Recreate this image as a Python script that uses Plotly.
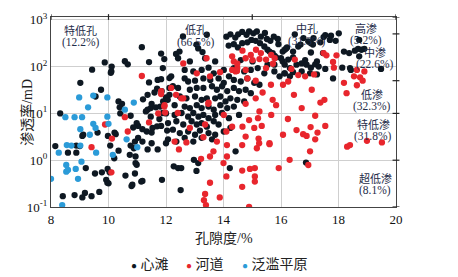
import math
import plotly.graph_objects as go

# ---------------- data (porosity %, permeability mD) ----------------
xintan_por = [
    11.16, 10.57, 10.67, 9.87, 10.11, 10.08, 9.43, 9.02, 9.74, 9.55, 10.35, 10.47, 11.41, 11.83, 11.94,
    11.41, 11.71, 11.83, 12.12, 11.69, 11.36, 11.47, 10.41, 8.32, 12.12,
    9.12, 9.62, 9.98, 10.21, 10.25, 8.15, 8.59, 8.88, 8.88, 9.0, 9.09, 10.77, 10.92, 10.88, 11.03, 10.35, 10.06,
    11.03, 11.18, 11.33, 11.5, 11.53, 11.69, 11.77, 11.83, 11.47, 10.77, 10.98, 10.86, 11.18, 11.5, 11.36, 11.71,
    12.0, 12.04, 10.74, 10.94, 10.98, 10.59, 10.8, 11.14, 11.86, 10.04, 9.77, 9.53, 9.96, 9.18, 8.82, 8.41, 9.41,
    9.68, 9.09, 9.21, 9.97, 9.92, 10.0, 10.83, 10.92, 11.18, 10.94, 10.2,
    11.2, 11.6, 11.9, 11.5, 11.3, 11.8, 12.0, 11.85, 12.06, 11.65, 12.0, 11.36, 10.1, 10.39,
    12.59, 13.42, 13.06, 12.47, 12.35, 13.12, 13.27,
    12.27, 12.42, 12.53, 12.51, 12.97, 13.12, 13.06, 14.22, 14.42,
    12.42, 12.83, 13.36, 13.71, 14.60, 15.01,
    11.89, 12.65, 12.95, 13.24, 13.48, 13.66, 14.01, 14.36, 14.72, 14.95, 15.19,
    12.18, 12.65, 12.77, 13.01, 13.30, 13.54, 13.83, 14.01, 14.19, 14.36, 14.60, 14.83, 15.07, 15.25,
    12.24, 12.42, 12.83, 13.07, 13.30, 13.60, 13.77, 13.95, 14.13, 14.36, 14.54, 14.77, 14.95,
    12.12, 12.48, 12.71, 13.01, 13.24, 13.42, 13.71, 13.89, 14.07, 14.24, 14.48, 14.72,
    12.30, 12.65, 12.83, 13.07, 13.24, 13.48, 13.66, 13.89, 14.13, 14.36,
    11.89, 12.30, 12.54, 12.77, 12.95, 13.13, 13.30, 13.48, 13.71, 13.95, 14.19, 14.54,
    12.07, 12.36, 12.60, 12.89, 13.07, 13.24, 13.42, 13.66, 13.83, 14.24,
    12.24, 12.48, 12.77, 13.01, 13.18, 13.48, 13.71, 14.01,
    12.07, 12.36, 12.65, 12.95, 13.24, 13.60,
    14.10, 14.24, 14.41, 14.51, 14.65, 14.80, 14.89, 15.04, 15.16, 15.30, 15.44, 15.51, 15.63, 15.75, 15.89,
    15.91, 16.06, 16.18, 14.18, 14.36, 14.50, 14.65, 14.83, 14.97, 15.12, 15.27, 15.42, 15.53, 15.71,
    15.60, 15.78, 15.83, 16.00, 15.53, 15.77, 16.06, 15.42, 15.77, 15.95, 16.12,
    16.48, 16.78, 16.95, 17.13, 17.48, 17.74, 18.01, 16.68, 17.04, 17.37, 17.70, 16.13, 16.21, 16.42,
    17.04, 17.46, 16.84, 17.25, 16.42, 16.60, 16.25, 17.54, 17.90, 17.11,
    16.13, 16.31, 16.54, 16.72, 16.89, 17.04, 17.19, 17.31, 16.13, 16.31, 16.42, 16.72, 17.01, 17.25,
    17.81, 17.54, 18.19, 18.37, 18.57, 18.68, 18.80, 18.90, 18.72, 18.40, 19.48, 18.13, 18.72, 18.43,
    16.87,
]
xintan_perm = [
    260, 130, 112, 123, 100, 74, 86, 45, 32, 23, 18, 16, 125, 190, 145,
    46, 52, 54, 57, 34, 25, 13, 10, 10, 35,
    3.5, 3.9, 3.3, 3.9, 3.6, 2.0, 1.45, 1.45, 2.05, 2.0, 3.3, 2.05, 2.5, 1.8, 3.0, 1.6, 2.05,
    5.4, 4.6, 4.1, 3.9, 4.9, 5.3, 7.6, 5.4, 8.5, 8.9, 6.2, 5.0, 2.5, 2.3, 1.7, 1.7,
    2.3, 4.3, 1.3, 1.2, 0.8, 0.47, 0.28, 0.35, 0.38, 0.55, 0.55, 0.52, 0.33, 0.2, 0.18, 0.17, 0.17,
    0.21, 0.16, 0.68, 0.65, 0.38, 0.32, 0.3, 0.52, 0.36, 0.87, 1.1,
    20, 28, 18, 16, 11, 14, 22, 30, 19.5, 13.5, 10, 12, 79, 13.5,
    440, 480, 295, 209, 186, 245, 204,
    0.74, 0.68, 0.68, 0.23, 1.02, 0.87, 0.59, 0.68, 1.55,
    151, 129, 151, 129, 138, 129,
    93, 85, 79, 85, 95, 72, 85, 93, 79, 85, 93,
    62, 56, 48, 50, 56, 52, 56, 45, 62, 52, 48, 56, 45, 41,
    38, 35, 32, 35, 35, 38, 32, 38, 30, 35, 30, 32, 27,
    25, 23, 21, 23, 19.5, 21, 21, 23, 18, 21, 19.5, 18,
    15, 14, 13, 15, 13, 14, 12, 15, 13, 14,
    10.2, 9.3, 10.2, 8.5, 10.2, 8.5, 9.3, 7.9, 9.3, 10.2, 7.9, 9.3,
    6.2, 6.8, 5.8, 6.8, 5.8, 6.2, 5.2, 6.8, 5.8, 4.9,
    4.5, 3.8, 4.1, 3.5, 4.3, 3.8, 3.5, 4.1,
    2.8, 2.5, 3.0, 2.5, 3.0, 2.8,
    437, 490, 417, 490, 550, 479, 562, 513, 562, 437, 525, 389, 355, 437, 389,
    302, 209, 245, 282, 302, 257, 316, 331, 372, 355, 316, 269, 229, 195,
    209, 170, 158, 151, 110, 110, 129, 72, 79, 62, 72,
    490, 407, 347, 407, 427, 457, 513, 295, 316, 331, 372, 229, 257, 158,
    200, 195, 138, 129, 209, 269, 141, 468, 355, 295,
    110, 93, 110, 117, 110, 95, 112, 100, 72, 62, 76, 79, 72, 68,
    56, 89, 209, 195, 219, 240, 229, 240, 166, 93, 89, 95, 372, 85,
    0.89,
]

hedao_por = [
    11.16, 11.83, 11.94, 11.73, 10.57, 9.88, 10.67, 10.12, 9.41, 11.41, 11.97, 10.1, 12.18, 12.53,
    12.60, 13.07, 11.83, 12.60, 11.95, 13.48, 13.36, 12.83, 12.30, 13.30, 13.77,
    14.30, 14.48, 14.77, 15.01, 14.01, 14.30, 14.89, 14.66, 14.77, 15.07, 15.25,
    13.41, 13.53, 13.88, 12.35, 13.47, 12.41, 12.71, 14.1,
    12.45, 13.65, 13.53, 13.22, 14.12, 14.0, 14.1, 13.53, 13.36, 13.32, 13.39, 13.87,
    15.6, 15.66, 16.07, 14.92, 15.09, 14.65, 15.09, 15.09, 14.65, 15.92, 14.89,
    14.12, 15.16, 15.22, 15.24, 15.33, 15.2, 14.65, 15.6,
    17.19, 16.24, 16.54, 16.77, 16.89, 17.03, 17.27, 17.54, 17.19, 17.01, 16.3, 18.3, 18.4, 18.99, 19.51, 16.95,
    14.66, 14.95, 15.13, 15.30, 15.48, 15.66, 15.78, 14.36, 14.48, 14.42, 14.77, 15.25, 15.48, 15.72,
    15.65, 15.36, 15.83, 15.71, 14.30, 14.47, 14.83, 15.12, 14.77, 15.12,
    16.48, 17.48, 17.58, 17.81, 17.93, 17.84, 16.36, 16.60, 16.84, 17.15, 16.25, 16.07, 16.45, 17.07,
    17.51, 17.37, 18.19, 18.28, 18.54, 18.64, 18.75, 18.84, 18.90, 18.64, 16.72,
]
hedao_perm = [
    63, 26, 14, 10, 8.3, 5.8, 4.1, 2.9, 1.9, 6.4, 10.4, 0.55, 35, 21,
    117, 72, 30, 21, 15, 17, 5.8, 4.9, 2.5, 3.1, 2.5,
    166, 93, 151, 138, 9.3, 5.2, 7.2, 5.2, 3.2, 4.9, 11,
    151, 62, 76, 25, 16, 10.2, 2.4, 4.1,
    1.7, 1.55, 1.2, 1.07, 1.2, 0.87, 0.45, 0.33, 0.19, 0.14, 0.11, 0.16,
    2.3, 9.3, 3.5, 0.65, 0.68, 0.6, 0.45, 0.35, 0.27, 0.68, 0.10,
    2.1, 1.8, 2.9, 2.3, 5.4, 7.9, 2.1, 2.2,
    8.9, 7.6, 4.4, 3.6, 3.3, 5.1, 3.9, 5.4, 2.8, 1.55, 1.02, 1.95, 2.1, 2.6, 2.4, 0.79,
    219, 178, 229, 195, 141, 178, 151, 129, 115, 79, 85, 145, 93, 115,
    41, 28, 15, 19.5, 85, 81, 56, 50, 16, 21,
    141, 195, 174, 126, 174, 95, 89, 66, 62, 68, 48, 41, 25, 32,
    19.5, 17, 45, 27, 62, 40, 59, 50, 79, 85, 13,
]

fanlan_por = [
    8.98, 9.47, 9.96, 9.29, 10.88, 10.57, 8.5, 9.08, 9.96, 9.47, 10.0, 9.02, 9.35, 10.63, 8.55, 8.71,
    9.02, 8.27, 9.57, 10.15, 9.06, 8.53, 8.86, 8.53, 8.59, 8.0, 8.94, 8.39, 11.0, 8.82, 9.55,
]
fanlan_perm = [
    22, 24, 22, 13.5, 17, 12, 8.3, 8.3, 8.5, 6.0, 6.0, 4.6, 3.5, 2.8, 2.1, 2.05,
    2.05, 1.45, 1.45, 1.3, 0.93, 0.79, 0.65, 0.57, 0.62, 0.40, 0.40, 0.11, 1.9, 8.3, 4.9,
]

series_names = ["心滩", "河道", "泛滥平原"]
series_colors = ["#0e1822", "#e8262d", "#2b9bd8"]

x_ticks = [8, 10, 12, 14, 16, 18, 20]
y_tickvals = [0.1, 1, 10, 100, 1000]
y_ticktext = ["10<sup>-1</sup>", "10<sup>0</sup>", "10<sup>1</sup>", "10<sup>2</sup>", "10<sup>3</sup>"]

# zone labels: (porosity, permeability of first line, class name, share)
zone_labels = [
    (9.04, 582, "特低孔", "(12.2%)"),
    (13.04, 597, "低孔", "(66.5%)"),
    (16.90, 627, "中孔", "(31.3%)"),
    (18.96, 640, "高渗", "(5.2%)"),
    (19.27, 205, "中渗", "(22.6%)"),
    (19.17, 25.6, "低渗", "(32.3%)"),
    (19.20, 5.7, "特低渗", "(31.8%)"),
    (19.27, 0.415, "超低渗", "(8.1%)"),
]
por_bounds = [8, 10, 15, 20]
perm_bounds = [1150, 500, 50, 10, 1, 0.1]

# ---------------- figure ----------------
fig = go.Figure()
for name, xs, ys, col in zip(series_names,
                              [xintan_por, hedao_por, fanlan_por],
                              [xintan_perm, hedao_perm, fanlan_perm],
                              series_colors):
    fig.add_trace(go.Scatter(
        x=xs, y=ys, mode="markers", name=name, showlegend=False,
        marker=dict(size=6.3, color=col, line=dict(width=0)),
    ))

serif = "Liberation Serif, Noto Sans CJK SC, serif"
label_color = "#1f2d4a"
for x, y, name, pct in zone_labels:
    fig.add_annotation(x=x, y=math.log10(y), yref="y", xref="x", text=name, showarrow=False,
                       borderpad=0, font=dict(family=serif, size=11, color=label_color),
                       yanchor="middle")
    fig.add_annotation(x=x, y=math.log10(y), yref="y", xref="x", text=pct, showarrow=False,
                       borderpad=0, yshift=-12, font=dict(family=serif, size=11.5, color=label_color),
                       yanchor="middle")

# axis titles
fig.add_annotation(x=0.50, y=-0.165, xref="paper", yref="paper", text="孔隙度/%", showarrow=False,
                   font=dict(family=serif, size=14, color="#222"), xanchor="center", yanchor="middle")
fig.add_annotation(x=-0.07, y=0.5, xref="paper", yref="paper", text="渗透率/mD", showarrow=False,
                   textangle=-90, font=dict(family=serif, size=14, color="#222"),
                   xanchor="center", yanchor="middle")

# legend (drawn as text items)
legend_x = [0.226, 0.386, 0.548]
for lx, name, col in zip(legend_x, series_names, series_colors):
    fig.add_annotation(x=lx, y=-0.305, xref="paper", yref="paper", showarrow=False,
                       xanchor="left", yanchor="middle",
                       text=f"<span style='color:{col};font-size:10px'>●</span> {name}",
                       font=dict(family=serif, size=14, color="#222"))

shapes = []
for b in por_bounds:
    shapes.append(dict(type="line", xref="x", yref="paper", x0=b, x1=b, y0=0.985, y1=1.015,
                       line=dict(color="#222", width=1.2)))
for p in perm_bounds:
    shapes.append(dict(type="line", xref="paper", yref="y", x0=0.99, x1=1.01, y0=p, y1=p,
                       line=dict(color="#222", width=1.2)))
fig.update_layout(shapes=shapes)

fig.update_xaxes(range=[8, 20], tickvals=x_ticks, showgrid=True, gridcolor="#cfcfcf", gridwidth=1,
                 showline=True, linecolor="#444", linewidth=1.2, mirror=True, zeroline=False,
                 ticks="", automargin=False, tickfont=dict(family=serif, size=13, color="#111"))
fig.update_yaxes(type="log", range=[-1, 3.06], tickvals=y_tickvals, ticktext=y_ticktext,
                 showgrid=True, gridcolor="#cfcfcf", gridwidth=1,
                 showline=True, linecolor="#444", linewidth=1.2, mirror=True, zeroline=False,
                 ticks="", automargin=False, tickfont=dict(family=serif, size=13, color="#111"))

fig.update_layout(
    width=458, height=277,
    margin=dict(l=51, r=62, t=17, b=70),
    paper_bgcolor="white", plot_bgcolor="white",
    showlegend=False,
)

fig.write_html("out.html", config={"displayModeBar": False},
               post_script="document.body.style.margin='0px';")
